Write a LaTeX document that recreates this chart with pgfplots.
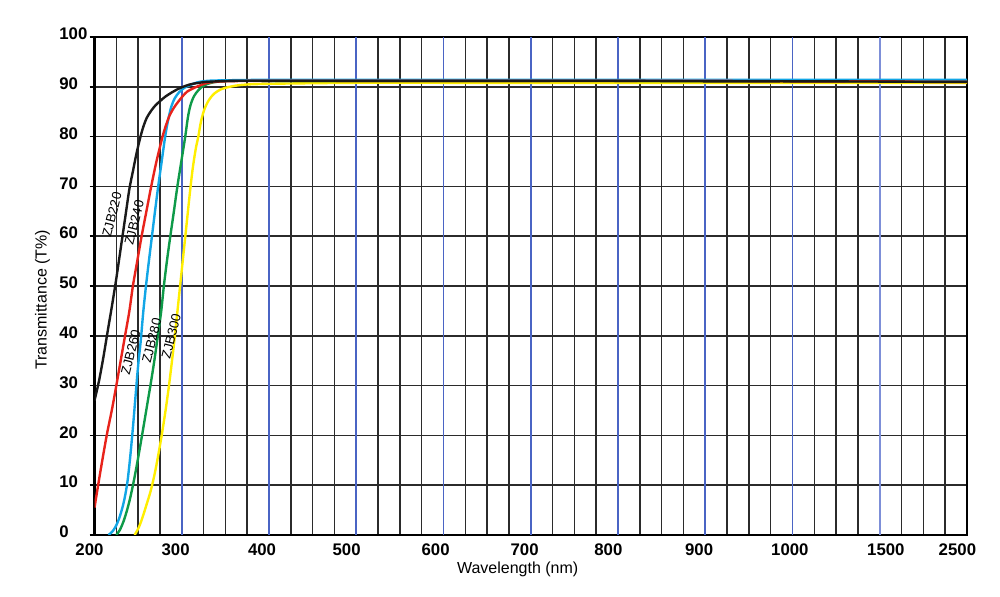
\documentclass[border=0pt]{standalone}
\usepackage{pgfplots}
\pgfplotsset{compat=1.18}
\usepackage{fontspec}
\setmainfont{Liberation Sans}

\definecolor{gridblack}{HTML}{2B2B2B}
\definecolor{gridblue}{HTML}{4A64C4}
\definecolor{gridbluelight}{HTML}{7D8FD8}
\definecolor{zjbblack}{HTML}{1A1A1A}
\definecolor{zjbred}{HTML}{E8231B}
\definecolor{zjbcyan}{HTML}{12A6E6}
\definecolor{zjbgreen}{HTML}{0E9A48}
\definecolor{zjbyellow}{HTML}{FFEE00}

\begin{document}
\begin{tikzpicture}
\useasboundingbox (0,0) rectangle (500pt,298.5pt);
\begin{axis}[
    at={(47.25pt,31pt)}, anchor=south west,
    scale only axis, width=436.25pt, height=249pt,
    xmin=2, xmax=12, ymin=0, ymax=100,
    % wavelength axis is piecewise linear: 200-1000 | 1000-1500 | 1500-2500
    x filter/.expression={x<=1000 ? x/100 : (x<=1500 ? 10+(x-1000)/500 : 11+(x-1500)/1000)},
    xtick={2,2.93,3.92,4.89,5.91,6.93,7.89,8.93,9.97,11.07,11.89},
    xticklabels={\hspace*{-5pt}200,300,400,500,600,700,800,900,1000,1500,2500},
    xtick style={draw=none},
    minor xtick={2.25,2.5,2.75,3.25,3.5,3.75,4.25,4.5,4.75,5.25,5.5,5.75,
                 6.25,6.5,6.75,7.25,7.5,7.75,8.25,8.5,8.75,9.25,9.5,9.75,
                 10.25,10.5,10.75,11.25,11.5,11.75},
    minor tick length=0pt,
    xminorgrids=true,
    minor x grid style={gridblack, line width=0.8pt},
    extra x ticks={3,4,5,6,7,8,9,10},
    extra x tick labels={},
    extra x tick style={grid=major, major grid style={gridblue, line width=0.8pt}, tick style={draw=none}},
    ytick={0,10,...,100},
    ymajorgrids=true,
    major y grid style={gridblack, line width=0.8pt},
    ytick align=outside, ytick pos=left,
    major tick length=2.5pt,
    every tick/.style={black, line width=0.8pt},
    axis line style={black, line width=1.1pt},
    /pgf/number format/assume math mode=true,
    ticklabel style={font=\bfseries\fontsize{8.4}{10}\selectfont},
    xticklabel style={yshift=-1pt},
    yticklabel style={anchor=west, inner sep=0pt, xshift=-15.25pt, yshift=1.5pt},
    xlabel={Wavelength (nm)},
    ylabel={Transmittance (T\%)},
    label style={font=\fontsize{8}{10}\selectfont},
    xlabel style={at={(axis description cs:0.485,-0.070)}, anchor=center},
    ylabel style={at={(axis description cs:-0.0596,0.472)}, anchor=center, rotate=0},
    every axis plot/.append style={line width=1.2pt, smooth, tension=0.5},
]
% lighter grid line at 1500 nm
\draw[gridbluelight, line width=0.8pt] (axis cs:11,0) -- (axis cs:11,100);

% ZJB300
\addplot[zjbyellow] coordinates {
 (246,0) (248,0.6) (251,1.6) (254,3) (257,4.6) (260,6.3) (264,8.6) (268,11.5)
 (272,15) (277,20) (281,24.5) (285,29.5) (288.5,34.5) (291.5,39) (294.5,44)
 (297.5,49) (300.5,54) (303.5,59) (306.5,64) (309.5,69) (312.5,73.5)
 (316,77.5) (319,80) (322,83) (326,85.5) (331,87.3) (337,88.6) (345,89.5)
 (355,90) (370,90.4) (400,90.6) (500,90.8) (600,90.8) (700,90.8)
 (800,90.8) (900,90.8) (1000,90.8) (1500,90.8) (2000,90.8) (2500,90.8)};
% ZJB280
\addplot[zjbgreen] coordinates {
 (225,0) (229,1) (233,2.6) (237,4.8) (241,7.5) (245,10.8) (249,14.5)
 (253,18.5) (257,22.6) (261,26.8) (265,31) (269,35.5) (273,40.5)
 (276.5,45) (279.5,50) (283,55) (286.5,59.5) (291,65) (295,70) (299.5,75)
 (304,80) (307,83.8) (310,86.3) (314,88.1) (319,89.3) (324,90.1)
 (330,90.6) (340,91) (360,91.2) (400,91.2) (500,91.2) (600,91.2)
 (700,91.2) (800,91.2) (900,91.2) (1000,91.2) (1500,91.1) (2000,91.1)
 (2500,91.1)};
% ZJB260
\addplot[zjbcyan] coordinates {
 (216,0) (220,0.6) (224,1.6) (228,3.2) (232,5.5) (235,7.8) (238,11)
 (241,15.8) (244,21.5) (247,27.8) (250,34) (253,39) (256,45) (259,50)
 (262,54.5) (265.5,59.5) (269,64.5) (273,70) (277,75) (281,80) (284,83)
 (288,86) (292,87.7) (297,88.9) (303,89.8) (309,90.3) (318,90.9)
 (330,91.2) (350,91.3) (400,91.4) (500,91.4) (600,91.4) (700,91.4)
 (800,91.4) (900,91.4) (1000,91.4) (1500,91.4) (2000,91.4) (2500,91.4)};
% ZJB240
\addplot[zjbred] coordinates {
 (200,5.5) (207,13) (214,20) (220,25.2) (225,30) (230,35) (235,40) (240,45)
 (244,50) (249,55) (254,60) (259.5,65) (265,70) (271,75) (278,80)
 (282,82.3) (286,84.2) (291,85.8) (296,87) (301,88.1) (306,89) (311,89.5)
 (317,90) (330,90.8) (350,91.1) (400,91.2) (500,91.2) (600,91.2)
 (700,91.2) (800,91.2) (900,91.2) (1000,91.1) (1500,91.1) (2000,91)
 (2500,91)};
% ZJB220
\addplot[zjbblack] coordinates {
 (200,27) (205,30.8) (210,35.5) (215,40.8) (220,46) (225,51.5) (230,57.5)
 (235,63.5) (240,69.5) (244,73) (248,76.5) (252,79.5) (256,82) (260,83.8)
 (265,85.2) (270,86.3) (275,87.1) (281,88) (288,88.8) (295,89.5)
 (300,89.9) (310,90.5) (320,90.8) (330,91) (360,91.2) (400,91.2)
 (500,91.2) (600,91.2) (700,91.2) (800,91.2) (900,91.1) (1000,91.1)
 (1500,91.05) (2000,91) (2500,91)};

\begin{scope}[every node/.style={font=\fontsize{6.6}{8}\selectfont, rotate=76, inner sep=0pt}]
\node at (axis cs:2.2,64.3) {ZJB220};
\node at (axis cs:2.455,62.7) {ZJB240};
\node at (axis cs:2.415,36.7) {ZJB260};
\node at (axis cs:2.655,39) {ZJB280};
\node at (axis cs:2.88,39.9) {ZJB300};
\end{scope}
\end{axis}
\end{tikzpicture}
\end{document}
